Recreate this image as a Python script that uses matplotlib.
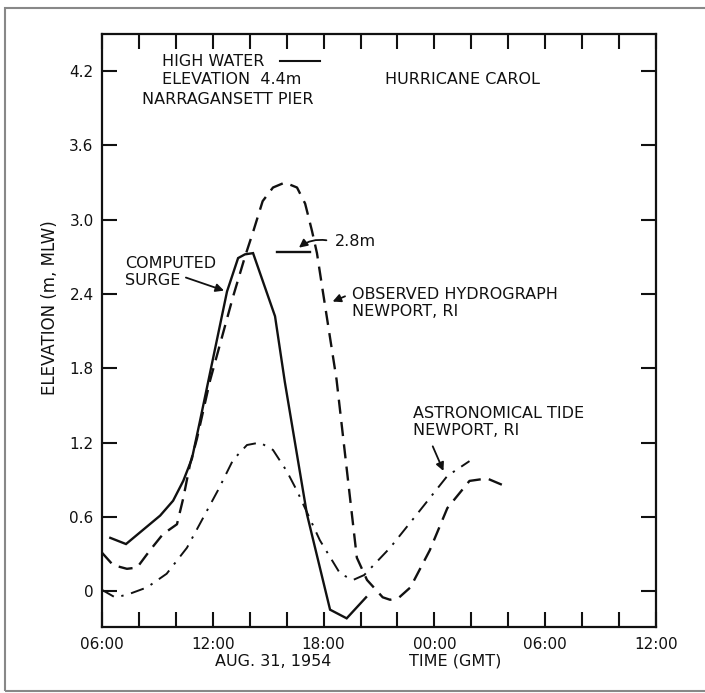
import matplotlib
matplotlib.use("Agg")
import matplotlib.pyplot as plt
from matplotlib.patches import Rectangle

# hours since 00:00 Aug 31, 1954 (GMT)
surge_t = [6.45, 7.3, 9.15, 9.85, 10.4, 10.87, 11.3, 12.77, 13.37, 13.74, 14.18, 15.37,
           15.9, 17.1, 18.35, 19.25, 20.3]
surge_z = [0.43, 0.38, 0.61, 0.73, 0.89, 1.07, 1.37, 2.42, 2.69, 2.72, 2.73, 2.22,
           1.69, 0.62, -0.15, -0.22, -0.05]

obs_t = [6.0, 6.6, 7.35, 7.9, 8.6, 9.3, 10.06, 10.4, 10.76, 11.14, 11.85, 13.1, 13.74,
         14.2, 14.7, 15.26, 15.9, 16.56, 17.0, 17.37, 17.64, 17.97, 18.7, 19.25, 19.8,
         20.35, 21.2, 21.6, 22.1, 22.7, 23.75, 24.7, 25.9, 26.85, 27.8]
obs_z = [0.31, 0.21, 0.18, 0.19, 0.33, 0.46, 0.54, 0.75, 1.02, 1.23, 1.70, 2.38, 2.70,
         2.91, 3.15, 3.26, 3.30, 3.26, 3.13, 2.91, 2.73, 2.41, 1.71, 0.99, 0.27,
         0.09, -0.05, -0.07, -0.05, 0.03, 0.33, 0.67, 0.89, 0.91, 0.85]

tide_t = [6.0, 6.7, 7.35, 8.44, 9.5, 10.6, 11.47, 12.3, 13.1, 13.85, 14.55, 15.26, 16.0,
          16.56, 17.8, 18.9, 19.6, 20.2, 21.6, 23.05, 24.7, 25.9]
tide_z = [0.01, -0.05, -0.03, 0.03, 0.14, 0.35, 0.59, 0.82, 1.06, 1.18, 1.20, 1.14, 0.97,
          0.81, 0.41, 0.14, 0.09, 0.13, 0.35, 0.62, 0.93, 1.05]

high_water_t = [15.65, 17.8]
high_water_z = [4.28, 4.28]
mark_28_t = [15.5, 17.25]
mark_28_z = [2.74, 2.74]

yticks = [0, 0.6, 1.2, 1.8, 2.4, 3.0, 3.6, 4.2]
ytick_labels = ["0", "0.6", "1.2", "1.8", "2.4", "3.0", "3.6", "4.2"]
xticks = [6, 12, 18, 24, 30, 36]
xtick_labels = ["06:00", "12:00", "18:00", "00:00", "06:00", "12:00"]

plt.rcParams["font.family"] = "DejaVu Sans"
ink = "#111111"

fig = plt.figure(figsize=(7.05, 6.93), dpi=100)
ax = fig.add_axes([102 / 705, 1 - 627 / 693, 554 / 705, 593 / 693])

ax.plot(surge_t, surge_z, color=ink, lw=1.7, solid_joinstyle="miter")
ax.plot(obs_t, obs_z, color=ink, lw=1.7, dashes=(6, 3.5))
ax.plot(tide_t, tide_z, color=ink, lw=1.4, dashes=(7, 4, 1.2, 4))
ax.plot(high_water_t, high_water_z, color=ink, lw=1.5)
ax.plot(mark_28_t, mark_28_z, color=ink, lw=1.7)

ax.set_xlim(6, 36)
ax.set_ylim(-0.29, 4.5)
ax.set_xticks(xticks)
ax.set_xticklabels(xtick_labels)
ax.set_xticks(range(6, 37, 2), minor=True)
ax.set_yticks(yticks)
ax.set_yticklabels(ytick_labels)
ax.tick_params(which="both", direction="in", top=True, right=True, width=1.5,
               color=ink, labelsize=11, labelcolor=ink)
ax.tick_params(axis="x", which="both", length=11, pad=7)
ax.tick_params(axis="y", which="both", length=11, pad=6)
for s in ax.spines.values():
    s.set_linewidth(1.6)
    s.set_color(ink)

fs = 11.5
ax.text(9.25, 4.28, "HIGH WATER", fontsize=fs, va="center", ha="left", color=ink)
ax.text(9.25, 4.13, "ELEVATION  4.4m", fontsize=fs, va="center", ha="left", color=ink)
ax.text(8.15, 3.97, "NARRAGANSETT PIER", fontsize=fs, va="center", ha="left", color=ink)
ax.text(21.3, 4.13, "HURRICANE CAROL", fontsize=fs, va="center", ha="left", color=ink)

ax.text(7.25, 2.58, "COMPUTED\nSURGE", fontsize=fs, va="center", ha="left", color=ink,
        linespacing=1.15)
ax.annotate("", xy=(12.75, 2.42), xytext=(10.4, 2.54),
            arrowprops=dict(arrowstyle="-|>", color=ink, lw=1.3, mutation_scale=12))

ax.text(18.6, 2.82, "2.8m", fontsize=fs, va="center", ha="left", color=ink)
ax.annotate("", xy=(16.55, 2.76), xytext=(18.3, 2.83),
            arrowprops=dict(arrowstyle="-|>", color=ink, lw=1.3, mutation_scale=12,
                            connectionstyle="arc3,rad=0.25"))

ax.text(19.55, 2.33, "OBSERVED HYDROGRAPH\nNEWPORT, RI", fontsize=fs, va="center",
        ha="left", color=ink, linespacing=1.15)
ax.annotate("", xy=(18.35, 2.33), xytext=(19.3, 2.39),
            arrowprops=dict(arrowstyle="-|>", color=ink, lw=1.3, mutation_scale=12))

ax.text(22.85, 1.365, "ASTRONOMICAL TIDE\nNEWPORT, RI", fontsize=fs, va="center",
        ha="left", color=ink, linespacing=1.15)
ax.annotate("", xy=(24.55, 0.95), xytext=(23.85, 1.19),
            arrowprops=dict(arrowstyle="-|>", color=ink, lw=1.3, mutation_scale=12))

fig.text(50 / 705, 1 - 308 / 693, "ELEVATION (m, MLW)", rotation=90, fontsize=12,
         ha="center", va="center", color=ink)
fig.text(273 / 705, 1 - 661 / 693, "AUG. 31, 1954", fontsize=fs, ha="center",
         va="center", color=ink)
fig.text(455 / 705, 1 - 661 / 693, "TIME (GMT)", fontsize=fs, ha="center",
         va="center", color=ink)

# thin grey frame round the whole figure
fig.patches.append(Rectangle((5 / 705, 2 / 693), 705 / 705, 683 / 693,
                             transform=fig.transFigure, fill=False,
                             edgecolor="#888888", lw=1.5))

fig.savefig("out.png", dpi=100)
